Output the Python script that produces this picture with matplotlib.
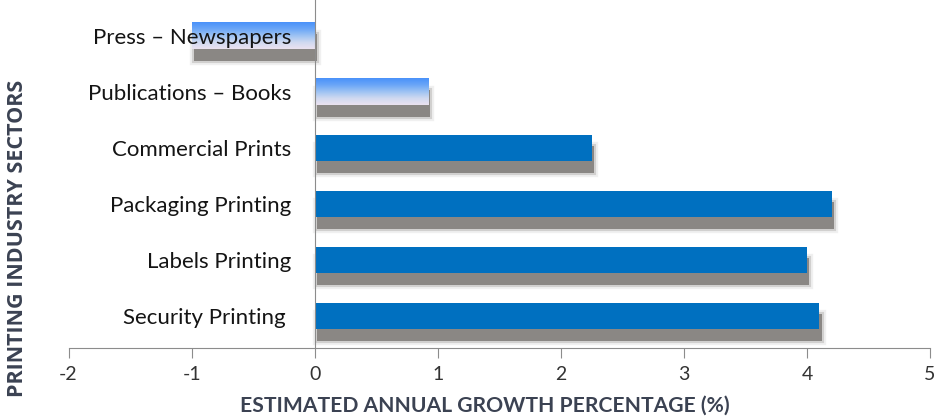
import numpy as np
import matplotlib.pyplot as plt
import matplotlib.patheffects as pe
from matplotlib.colors import LinearSegmentedColormap

# sectors listed bottom -> top
sectors = ['Security Printing ', 'Labels Printing', 'Packaging Printing',
           'Commercial Prints', 'Publications \u2013 Books', 'Press \u2013 Newspapers']
growth = [4.1, 4.0, 4.2, 2.25, 0.92, -1.0]
faded = ['Publications \u2013 Books', 'Press \u2013 Newspapers']

xticks = [-2, -1, 0, 1, 2, 3, 4, 5]

bar_col = '#0070c0'
axis_col = '#8c8c8c'
title_col = '#3b4252'
shadow_col = '#8a8784'
fade_cmap = LinearSegmentedColormap.from_list(
    'fade', ['#4a92fa', '#6aa6f7', '#9cc2f3', '#cfd9f0', '#ebe2f0'])

fig = plt.figure(figsize=(9.35, 4.19), dpi=100)
ax = fig.add_axes([0.0733, 0.1695, 0.9214, 0.8305])

h = 0.48
off = (1.8, -8.3)
# soft drop shadow: a couple of faint wide strokes under a solid offset copy
shadow = [pe.Stroke(offset=off, linewidth=6, foreground=shadow_col, alpha=0.12),
          pe.Stroke(offset=off, linewidth=3, foreground=shadow_col, alpha=0.3),
          pe.SimplePatchShadow(offset=off, shadow_rgbFace=shadow_col, alpha=1.0),
          pe.Normal()]

ypos = np.arange(len(sectors))
for y, name, v in zip(ypos, sectors, growth):
    if name in faded:
        b = ax.barh(y, v, height=h, color='white', edgecolor='none', zorder=1)
        b[0].set_path_effects(shadow)
        grad = np.linspace(0, 1, 64).reshape(-1, 1)
        ax.imshow(grad, cmap=fade_cmap, aspect='auto', zorder=1.2,
                  extent=(min(0, v), max(0, v), y - h / 2, y + h / 2))
    else:
        b = ax.barh(y, v, height=h, color=bar_col, edgecolor='none', zorder=1)
        b[0].set_path_effects(shadow)

ax.set_xlim(-2, 5)
ax.set_ylim(-0.571, 5.643)

for s in ['top', 'right']:
    ax.spines[s].set_visible(False)
ax.spines['left'].set_position(('data', 0))
ax.spines['left'].set_color(axis_col)
ax.spines['left'].set_zorder(4)
ax.spines['bottom'].set_color(axis_col)
ax.yaxis.set_zorder(5)

ax.set_yticks(ypos)
ax.set_yticklabels(sectors, fontsize=16, color='#141414', family='Lato')
ax.tick_params(axis='y', length=0, pad=17)
ax.set_xticks(xticks)
ax.set_xticklabels([str(t) for t in xticks], fontsize=14, color='#333333', family='Lato')
ax.tick_params(axis='x', length=7, color=axis_col, pad=6)

fig.text(0.519, 0.033, 'ESTIMATED ANNUAL GROWTH PERCENTAGE (%)', ha='center', va='center',
         fontsize=15.2, fontweight='bold', color=title_col, family='Lato')
fig.text(0.019, 0.432, 'PRINTING INDUSTRY SECTORS', ha='center', va='center', rotation=90,
         fontsize=15.5, fontweight='bold', color=title_col, family='Open Sans')

fig.savefig('out.png', dpi=100)
